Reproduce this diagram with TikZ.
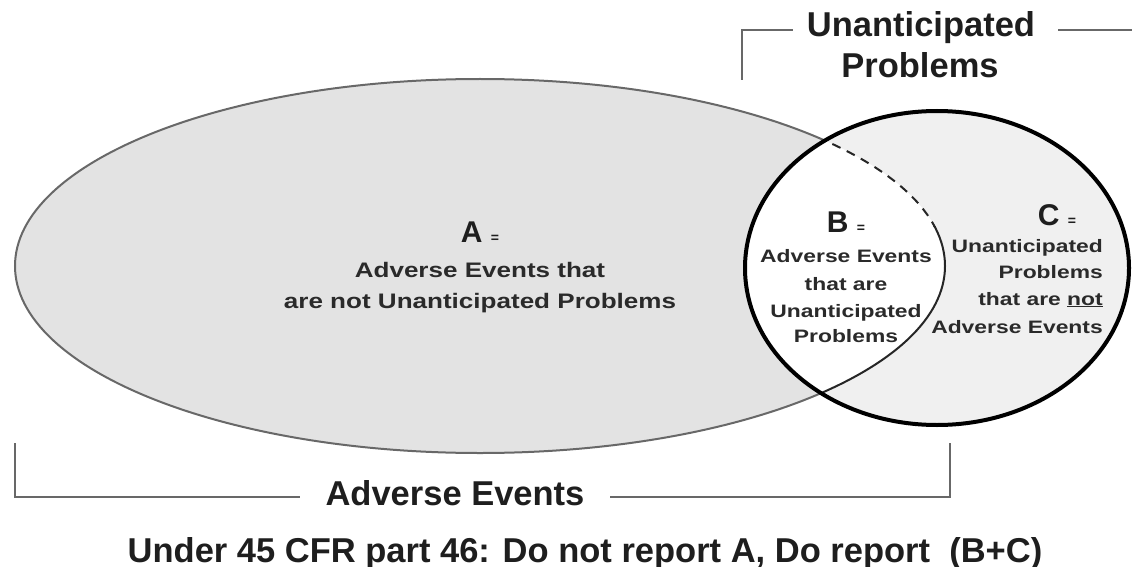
\documentclass[tikz,border=0pt]{standalone}
\usepackage{fontspec}
\usepackage{graphicx}
\setmainfont{Liberation Sans}
\definecolor{afill}{HTML}{E3E3E3}
\definecolor{cfill}{HTML}{F0F0F0}
\definecolor{rulegray}{HTML}{686868}
\definecolor{txt}{HTML}{1E1E1E}
\definecolor{intxt}{HTML}{2A2A2A}
\newcommand{\hstretch}[2]{\scalebox{#1}[1]{#2}}
\tikzset{
  bigtxt/.style={font=\fontsize{34.5}{41}\selectfont\bfseries, text=txt, inner sep=0pt, anchor=base},
  letter/.style={font=\fontsize{30}{30}\selectfont\bfseries, text=txt, inner sep=0pt, anchor=base},
  atxt/.style={font=\fontsize{21}{21}\selectfont\bfseries, text=intxt, inner sep=0pt, anchor=base},
  bctxt/.style={font=\fontsize{18}{18}\selectfont\bfseries, text=intxt, inner sep=0pt, anchor=base},
  bracket/.style={draw=rulegray, line width=2.5pt},
  outlineA/.style={draw=rulegray, line width=2pt},
  innerarc/.style={draw=black!85, line width=2pt},
  outlineC/.style={draw=black, line width=4pt}
}
\begin{document}
\begin{tikzpicture}[x=1pt,y=-1pt]
\useasboundingbox (0,0) rectangle (1132,567);
% region A
\fill[afill] (480,266) ellipse [x radius=465, y radius=187];
\draw[outlineA] (480,266) ellipse [x radius=465, y radius=187];
% region C
\fill[cfill] (937,268) ellipse [x radius=192, y radius=157];
% region B (intersection)
\begin{scope}
  \clip (480,266) ellipse [x radius=465, y radius=187];
  \fill[white] (937,268) ellipse [x radius=192, y radius=157];
\end{scope}
% inner boundary of B: dashed upper part, solid lower part
\begin{scope}
  \clip (937,268) ellipse [x radius=192, y radius=157];
  \begin{scope}
    \clip (700,100) rectangle (1000,226);
    \draw[innerarc, dash pattern=on 9pt off 7pt] (480,266) ellipse [x radius=465, y radius=187];
  \end{scope}
  \begin{scope}
    \clip (700,226) rectangle (1000,450);
    \draw[innerarc] (480,266) ellipse [x radius=465, y radius=187];
  \end{scope}
\end{scope}
\draw[outlineC] (937,268) ellipse [x radius=192, y radius=157];

% top label and bracket
\node[bigtxt] (up1) at (921,37) {Unanticipated};
\node[bigtxt] (up2) at (920,78) {Problems};
\coordinate (tl0) at (742,80);
\coordinate (tl1) at (742,30);
\coordinate (tl2) at (793,30);
\coordinate (tr1) at (1058,30);
\coordinate (tr2) at (1134,30);
\draw[bracket] (tl0) -- (tl1) -- (tl2);
\draw[bracket] (tr1) -- (tr2);

% bottom label and bracket
\node[bigtxt] (ae) at (455,505) {Adverse Events};
\coordinate (bl0) at (15,443);
\coordinate (bl1) at (15,497);
\coordinate (bl2) at (300,497);
\coordinate (br1) at (610,497);
\coordinate (br2) at (950,497);
\coordinate (br3) at (950,443);
\draw[bracket] (bl0) -- (bl1) -- (bl2);
\draw[bracket] (br1) -- (br2) -- (br3);

% footer
\node[bigtxt] (foot) at (585,562) {Under 45 CFR part 46: Do not report A, Do report \ (B+C)};

% A text
\node[letter] (Alab) at (480,242) {A {\fontsize{14}{14}\selectfont =}};
\node[atxt] (A1) at (480,277) {\hstretch{1.24}{Adverse Events that}};
\node[atxt] (A2) at (480,308) {\hstretch{1.24}{are not Unanticipated Problems}};

% B text
\node[letter] (Blab) at (846,232) {B {\fontsize{14}{14}\selectfont =}};
\node[bctxt] (B1) at (846,262) {\hstretch{1.27}{Adverse Events}};
\node[bctxt] (B2) at (846,290) {\hstretch{1.27}{that are}};
\node[bctxt] (B3) at (846,317) {\hstretch{1.27}{Unanticipated}};
\node[bctxt] (B4) at (846,342) {\hstretch{1.27}{Problems}};

% C text
\node[letter] (Clab) at (1057,225) {C {\fontsize{14}{14}\selectfont =}};
\node[bctxt, anchor=base east] (C1) at (1103,252) {\hstretch{1.27}{Unanticipated}};
\node[bctxt, anchor=base east] (C2) at (1103,278) {\hstretch{1.27}{Problems}};
\node[bctxt, anchor=base east] (C3) at (1103,305) {\hstretch{1.27}{that are \underline{not}}};
\node[bctxt, anchor=base east] (C4) at (1103,333) {\hstretch{1.27}{Adverse Events}};
\end{tikzpicture}
\end{document}
